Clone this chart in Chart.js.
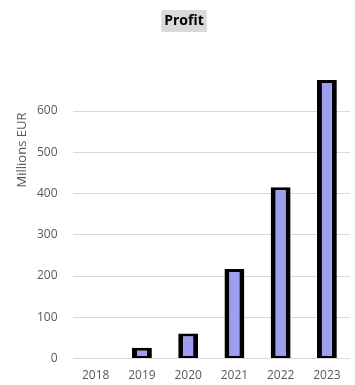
<!DOCTYPE html>
<html>
<head>
<meta charset="utf-8">
<script src="https://cdn.jsdelivr.net/npm/chart.js@4/dist/chart.umd.min.js"></script>
<style>
  html, body { margin: 0; padding: 0; background: #fff; }
  #wrap { width: 355px; height: 385px; }
</style>
</head>
<body>
<div id="wrap"><canvas id="profitChart" width="355" height="385"></canvas></div>
<script>
// ---- Data ----
const years   = ['2018', '2019', '2020', '2021', '2022', '2023'];
const profit  = [0, 26, 61, 217, 415, 675];
const yTicks  = [0, 100, 200, 300, 400, 500, 600];

const textColor = '#595959';
const baseFont  = '"Open Sans", "Noto Sans", sans-serif';

// Title and axis label drawn by hand: the title sits on a grey box and
// the axis label is placed higher than Chart.js would centre it
const labels = {
  id: 'labels',
  afterDraw(chart) {
    const ctx = chart.ctx;
    ctx.save();
    ctx.font = 'bold 14px ' + baseFont;
    const text = 'Profit';
    const w = ctx.measureText(text).width;
    const cx = 184, cy = 21;
    ctx.fillStyle = '#d9d9d9';
    ctx.fillRect(cx - w / 2 - 3, cy - 11, w + 6, 22);
    ctx.fillStyle = '#000';
    ctx.textAlign = 'center';
    ctx.textBaseline = 'middle';
    ctx.fillText(text, cx, cy);

    ctx.translate(22, 150);
    ctx.rotate(-Math.PI / 2);
    ctx.font = '13px ' + baseFont;
    ctx.fillStyle = textColor;
    ctx.fillText('Millions EUR', 0, 0);
    ctx.restore();
  }
};

new Chart(document.getElementById('profitChart'), {
  type: 'bar',
  data: {
    labels: years,
    datasets: [{
      data: profit,
      backgroundColor: '#9e9ef0',
      borderColor: '#000000',
      borderWidth: { left: 5, right: 5, top: 3, bottom: 2 },
      borderSkipped: false,
      categoryPercentage: 1,
      barPercentage: 0.43
    }]
  },
  options: {
    responsive: false,
    animation: false,
    layout: { padding: { top: 78, right: 5, left: 22, bottom: 0 } },
    plugins: {
      legend: { display: false },
      tooltip: { enabled: false }
    },
    scales: {
      x: {
        grid: { display: false },
        border: { display: false },
        ticks: { color: textColor, font: { family: baseFont, size: 12 }, padding: 2 }
      },
      y: {
        min: 0,
        max: 680,
        afterBuildTicks: axis => { axis.ticks = yTicks.map(v => ({ value: v })); },
        border: { display: false },
        grid: { color: '#d9d9d9', lineWidth: 1, drawTicks: false },
        ticks: { color: textColor, font: { family: baseFont, size: 12 }, padding: 15 }
      }
    }
  },
  plugins: [labels]
});
</script>
</body>
</html>
